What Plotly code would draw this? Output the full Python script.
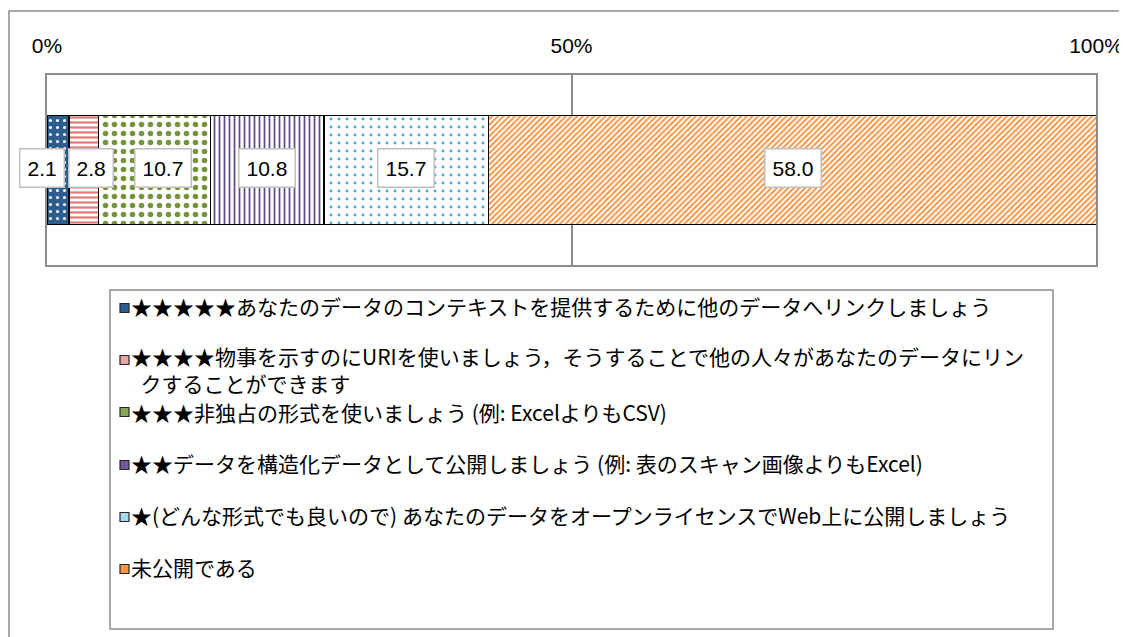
import plotly.graph_objects as go

# データ
categories = [
    "★★★★★あなたのデータのコンテキストを提供するために他のデータへリンクしましょう",
    "★★★★物事を示すのにURIを使いましょう，そうすることで他の人々があなたのデータにリン<br>&nbsp;&nbsp;クすることができます",
    "★★★非独占の形式を使いましょう (例: ExcelよりもCSV)",
    "★★データを構造化データとして公開しましょう (例: 表のスキャン画像よりもExcel)",
    "★(どんな形式でも良いので) あなたのデータをオープンライセンスでWeb上に公開しましょう",
    "未公開である",
]
values = [2.1, 2.8, 10.7, 10.8, 15.7, 58.0]
tick_vals = [0, 50, 100]
tick_text = ["0%", "50%", "100%"]

# 見た目
fg_colors = ["#ffffff", "#e07a7a", "#77933c", "#5f4b8b", "#4bacc6", "#f79646"]
bg_colors = ["#2c5d8f", "#ffffff", "#ffffff", "#ffffff", "#ffffff", "#ffffff"]
shapes_pat = [".", "-", ".", "|", ".", "/"]
pat_size = [7, 5, 9, 5, 8, 4]
pat_solid = [0.15, 0.45, 0.3, 0.35, 0.1, 0.5]
swatch_colors = ["#2c5d8f", "#e8a5a5", "#8aa65a", "#6e5a96", "#a8dbe8", "#f79646"]
label_xshift = [-16, 7, 8, 0, 0, 0]

# ページ余白 (8px) を考慮
OFF = 8
W, H = 1127 - OFF, 637 - OFF
L, R, T, B = 47 - OFF, 31, 75 - OFF, 372
pw, ph = W - L - R, H - T - B


def px_x(px):
    return (px - OFF - L) / pw


def px_y(py):
    return (H - B - (py - OFF)) / ph


GRAY = "#8c8c8c"
JP = "Noto Sans CJK JP"
NUM = "Liberation Sans"

fig = go.Figure()
for i, v in enumerate(values):
    fig.add_trace(go.Bar(
        x=[v], y=["r"], orientation="h", showlegend=False,
        marker=dict(color=bg_colors[i], line=dict(color="#000000", width=1.5),
                    pattern=dict(shape=shapes_pat[i], fgcolor=fg_colors[i], bgcolor=bg_colors[i],
                                 size=pat_size[i], solidity=pat_solid[i], fillmode="replace")),
        hoverinfo="skip",
    ))

annotations = []
cum = 0
for i, v in enumerate(values):
    annotations.append(dict(
        x=cum + v / 2, y="r", xref="x", yref="y", text=f"{v:.1f}", showarrow=False,
        font=dict(family=NUM, size=21, color="#000000"), bgcolor="#ffffff",
        bordercolor="#bfbfbf", borderwidth=1.5, borderpad=7, xshift=label_xshift[i], yshift=2,
    ))
    cum += v

# 凡例 (手作り)
rows = [308, 360, 412, 465, 517, 569]
text_off = [-18, -20, -16, -18, -18, -18]
shapes = []
for i, (name, ry) in enumerate(zip(categories, rows)):
    shapes.append(dict(type="rect", xref="paper", yref="paper",
                       x0=px_x(120), x1=px_x(129), y0=px_y(ry - 4.5), y1=px_y(ry + 4.5),
                       fillcolor=swatch_colors[i], line=dict(color="#262626", width=1.2)))
    annotations.append(dict(x=px_x(130), y=px_y(ry + text_off[i]), xref="paper", yref="paper",
                            xanchor="left", yanchor="top", align="left", text=name, borderpad=0,
                            showarrow=False, font=dict(family=JP, size=21, color="#000000")))

shapes.append(dict(type="rect", xref="paper", yref="paper", x0=px_x(110), x1=px_x(1053),
                   y0=px_y(290), y1=px_y(629), line=dict(color=GRAY, width=1.5), layer="below"))
shapes.append(dict(type="rect", xref="paper", yref="paper", x0=px_x(9), x1=px_x(1150),
                   y0=px_y(11), y1=px_y(660), line=dict(color=GRAY, width=1.5), layer="below"))

fig.update_layout(
    width=W, height=H, margin=dict(l=L, r=R, t=T, b=B, autoexpand=False),
    paper_bgcolor="#ffffff", plot_bgcolor="#ffffff",
    barmode="stack", bargap=0.426,
    shapes=shapes, annotations=annotations,
    xaxis=dict(range=[0, 100], side="top", tickvals=tick_vals, ticktext=tick_text,
               showgrid=True, gridcolor=GRAY, gridwidth=1.5, showline=True, mirror=True,
               linecolor=GRAY, linewidth=1.5, ticks="", zeroline=False, ticklabelstandoff=12,
               automargin=False, tickfont=dict(family=NUM, size=21, color="#000000")),
    xaxis2=dict(range=[0, 100], overlaying="x", side="bottom", anchor="y", tickvals=tick_vals,
                ticks="outside", ticklen=6, tickwidth=1.5, tickcolor=GRAY, automargin=False,
                showticklabels=False, showgrid=False, showline=False, zeroline=False),
    yaxis=dict(showline=True, mirror=True, linecolor=GRAY, linewidth=1.5, automargin=False,
               showticklabels=False, ticks="", showgrid=False),
)

fig.write_html("out.html")
